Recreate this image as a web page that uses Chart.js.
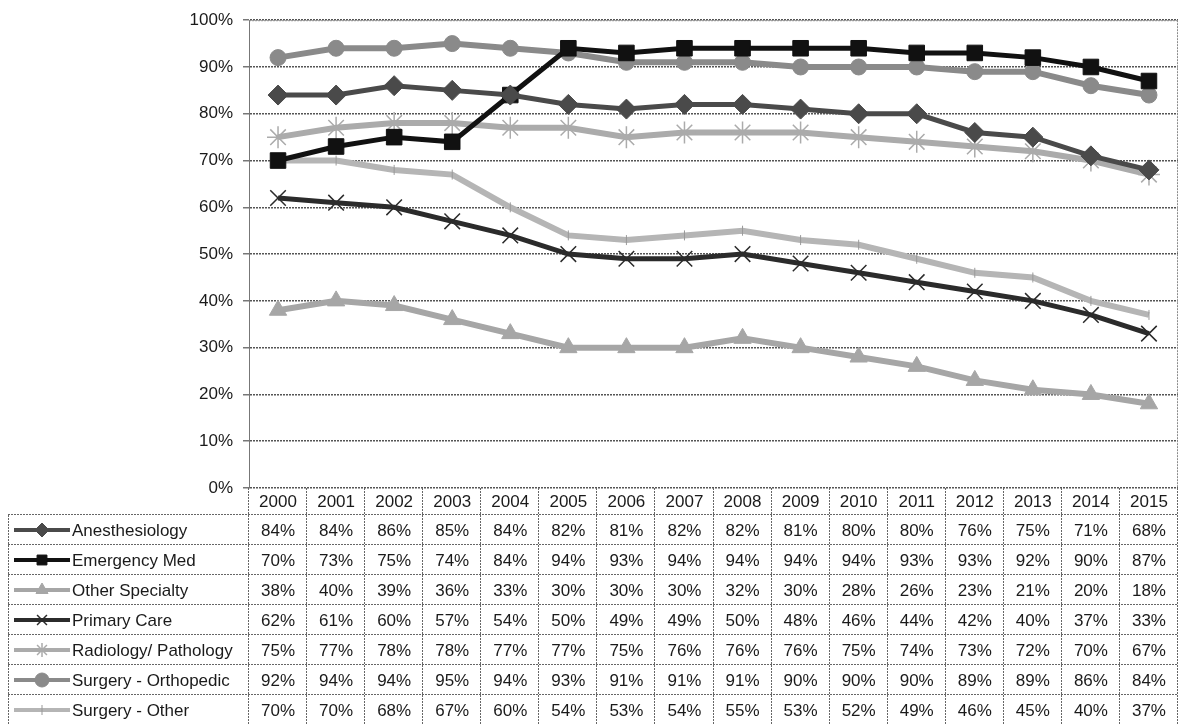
<!DOCTYPE html>
<html>
<head>
<meta charset="utf-8">
<script src="https://cdn.jsdelivr.net/npm/chart.js@4/dist/chart.umd.min.js"></script>
<style>
  html, body { margin: 0; padding: 0; background: #fff; }
  #wrap { width: 1179px; height: 724px; }
</style>
</head>
<body>
<div id="wrap"><canvas id="lineChart" width="1179" height="724"></canvas></div>
<script>
// Years along the x axis
const years = ['2000', '2001', '2002', '2003', '2004', '2005', '2006', '2007',
               '2008', '2009', '2010', '2011', '2012', '2013', '2014', '2015'];

// Percent values per specialty
const anesthesiology     = [84, 84, 86, 85, 84, 82, 81, 82, 82, 81, 80, 80, 76, 75, 71, 68];
const emergencyMed       = [70, 73, 75, 74, 84, 94, 93, 94, 94, 94, 94, 93, 93, 92, 90, 87];
const otherSpecialty     = [38, 40, 39, 36, 33, 30, 30, 30, 32, 30, 28, 26, 23, 21, 20, 18];
const primaryCare        = [62, 61, 60, 57, 54, 50, 49, 49, 50, 48, 46, 44, 42, 40, 37, 33];
const radiologyPathology = [75, 77, 78, 78, 77, 77, 75, 76, 76, 76, 75, 74, 73, 72, 70, 67];
const surgeryOrthopedic  = [92, 94, 94, 95, 94, 93, 91, 91, 91, 90, 90, 90, 89, 89, 86, 84];
const surgeryOther       = [70, 70, 68, 67, 60, 54, 53, 54, 55, 53, 52, 49, 46, 45, 40, 37];

const seriesNames = ['Anesthesiology', 'Emergency Med', 'Other Specialty', 'Primary Care',
                     'Radiology/ Pathology', 'Surgery - Orthopedic', 'Surgery - Other'];

const FONT = 'Arial, "Liberation Sans", sans-serif';

function series(label, data, color, style, radius, extra) {
    return Object.assign({
        label: label,
        data: data,
        borderColor: color,
        backgroundColor: color,
        pointBackgroundColor: color,
        pointBorderColor: color,
        borderWidth: 5,
        pointStyle: style,
        pointRadius: radius,
        pointBorderWidth: 1,
        tension: 0
    }, extra || {});
}

// Draws the data table under the plot, aligned with the x scale columns
const dataTable = {
    id: 'dataTable',
    afterDraw(chart) {
        const ctx = chart.ctx;
        const area = chart.chartArea;
        const x = chart.scales.x;
        const n = years.length;
        const colW = (area.right - area.left) / n;
        const tableLeft = 8;
        const headTop = area.bottom;
        const rowTop = 515;
        const rowH = 30;
        const bottom = rowTop + rowH * seriesNames.length;

        ctx.save();
        // plot frame (top and right, dotted)
        ctx.strokeStyle = '#8a8a8a';
        ctx.lineWidth = 1;
        ctx.setLineDash([2, 1]);
        ctx.beginPath();
        ctx.moveTo(area.left, area.top + 0.5);
        ctx.lineTo(area.right, area.top + 0.5);
        ctx.moveTo(area.right - 0.5, area.top);
        ctx.lineTo(area.right - 0.5, area.bottom);
        ctx.stroke();

        // table grid
        ctx.strokeStyle = '#666';
        ctx.beginPath();
        for (let i = 0; i <= n; i++) {
            const gx = Math.round(area.left + i * colW) - 0.5;
            ctx.moveTo(gx, headTop);
            ctx.lineTo(gx, bottom);
        }
        for (let r = 0; r <= seriesNames.length; r++) {
            const gy = rowTop + r * rowH - 0.5;
            ctx.moveTo(tableLeft, gy);
            ctx.lineTo(area.right, gy);
        }
        ctx.moveTo(tableLeft + 0.5, rowTop);
        ctx.lineTo(tableLeft + 0.5, bottom);
        ctx.stroke();
        ctx.setLineDash([]);

        // year header
        ctx.fillStyle = '#1a1a1a';
        ctx.font = '17px ' + FONT;
        ctx.textAlign = 'center';
        ctx.textBaseline = 'middle';
        years.forEach((yr, i) => {
            ctx.fillText(yr, x.getPixelForValue(i), headTop + 14);
        });

        // rows
        chart.data.datasets.forEach((ds, r) => {
            const cy = rowTop + r * rowH + rowH / 2;
            // legend key
            ctx.strokeStyle = ds.borderColor;
            ctx.lineWidth = 4;
            ctx.beginPath();
            ctx.moveTo(14, cy);
            ctx.lineTo(70, cy);
            ctx.stroke();
            ctx.fillStyle = ds.pointBackgroundColor;
            ctx.strokeStyle = ds.pointBorderColor;
            ctx.lineWidth = ds.pointBorderWidth;
            Chart.helpers.drawPoint(ctx, {
                pointStyle: ds.pointStyle,
                rotation: ds.pointRotation || 0,
                radius: Math.min(ds.pointRadius, 7),
                borderWidth: ds.pointBorderWidth
            }, 42, cy);
            // label
            ctx.fillStyle = '#1a1a1a';
            ctx.textAlign = 'left';
            ctx.fillText(ds.label, 72, cy + 1);
            // values
            ctx.textAlign = 'center';
            ds.data.forEach((v, i) => {
                ctx.fillText(v + '%', x.getPixelForValue(i), cy + 1);
            });
        });
        ctx.restore();
    }
};

function createLineChart() {
    const ctx = document.getElementById('lineChart').getContext('2d');

    new Chart(ctx, {
        type: 'line',
        data: {
            labels: years,
            datasets: [
                series(seriesNames[0], anesthesiology, '#4a4a4a', 'rectRot', 10),
                series(seriesNames[1], emergencyMed, '#111111', 'rect', 11),
                series(seriesNames[2], otherSpecialty, '#a6a6a6', 'triangle', 10, { borderWidth: 6 }),
                series(seriesNames[3], primaryCare, '#2b2b2b', 'crossRot', 11, { pointBorderWidth: 1.5 }),
                series(seriesNames[4], radiologyPathology, '#ababab', 'star', 11, { borderWidth: 6, pointBorderWidth: 1.5 }),
                series(seriesNames[5], surgeryOrthopedic, '#8a8a8a', 'circle', 8, { borderWidth: 6 }),
                series(seriesNames[6], surgeryOther, '#b5b5b5', 'line', 5, { borderWidth: 6, pointRotation: 90, pointBorderWidth: 1, pointBorderColor: '#999' })
            ]
        },
        options: {
            responsive: false,
            animation: false,
            layout: { autoPadding: false, padding: { top: 18, right: 1, bottom: 0, left: 0 } },
            scales: {
                x: {
                    offset: true,
                    grid: { display: false },
                    border: { display: false },
                    ticks: { display: false },
                    afterFit(scale) {
                        scale.height = 236;
                        scale.paddingLeft = 0;
                        scale.paddingRight = 0;
                    }
                },
                y: {
                    min: 0,
                    max: 100,
                    ticks: {
                        stepSize: 10,
                        padding: 10,
                        color: '#1a1a1a',
                        font: { family: FONT, size: 17 },
                        callback: v => v + '%'
                    },
                    grid: {
                        color: '#555',
                        lineWidth: 1.5,
                        tickLength: 6,
                        tickColor: '#777'
                    },
                    border: { display: true, color: '#777', width: 1, dash: [2, 1] },
                    afterFit(scale) { scale.width = 249; }
                }
            },
            plugins: {
                legend: { display: false },
                tooltip: { enabled: false }
            }
        },
        plugins: [dataTable]
    });
}

createLineChart();
</script>
</body>
</html>
